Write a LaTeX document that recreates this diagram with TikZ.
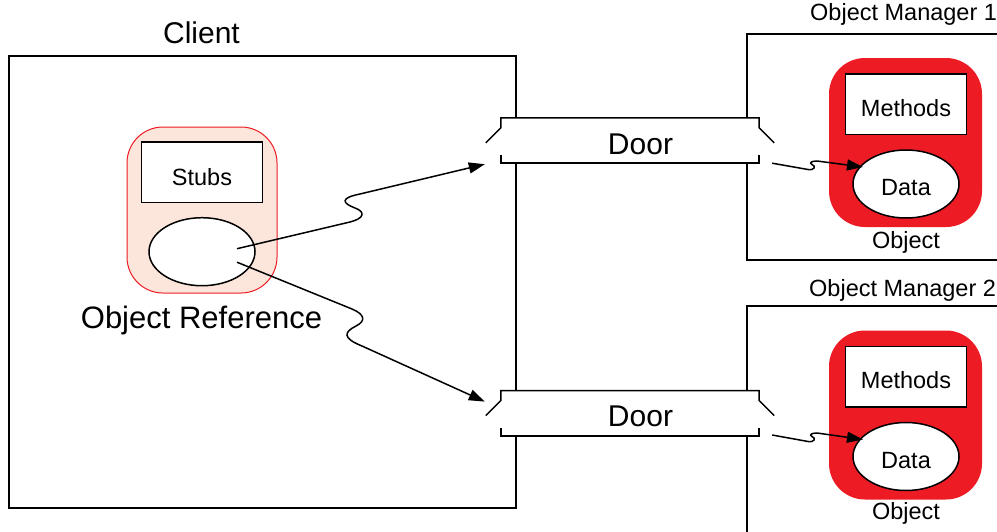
\documentclass[tikz,border=0pt]{standalone}
\usepackage{fontspec}
\setmainfont{Liberation Sans}
\usetikzlibrary{arrows.meta,calc,shapes.geometric}
\definecolor{objred}{RGB}{237,28,36}
\definecolor{refpink}{RGB}{252,229,218}
\begin{document}
\begin{tikzpicture}[x=1pt,y=-1pt,
  line/.style={draw=black,line width=1.5pt},
  bigtxt/.style={font=\fontsize{30}{36}\selectfont,inner sep=0pt,anchor=base},
  smalltxt/.style={font=\fontsize{23.5}{28}\selectfont,inner sep=0pt,anchor=base},
  textbox/.style={draw=black,line width=1.5pt,fill=white,minimum width=121pt,minimum height=60.5pt,inner sep=0pt},
  dataell/.style={ellipse,draw=black,line width=1.5pt,fill=white,minimum width=106pt,minimum height=68pt,inner sep=0pt},
  doorbox/.style={fill=white,minimum width=258pt,minimum height=45pt,inner sep=0pt},
  objblob/.style={fill=objred,rounded corners=36pt},
  conn/.style={line width=1.5pt,-{Triangle[length=16pt,width=11pt]}}
]
\clip (0,0) rectangle (997,531);
\fill[white] (0,0) rectangle (997,531);

% Client
\draw[line] (9,56) rectangle (516,508);
\node[bigtxt] (client) at (201.5,43.3) {Client};

% Object managers
\draw[line] (1010,34) -- (747,34) -- (747,260) -- (1010,260);
\node[smalltxt,anchor=base west] (om1) at (810,20.7) {Object Manager 1};
\draw[line] (1010,306) -- (747,306) -- (747,545);
\node[smalltxt,anchor=base west] (om2) at (809,296.7) {Object Manager 2};

% Object reference
\draw[draw=objred,line width=1pt,fill=refpink,rounded corners=36pt] (127,127) rectangle (277,293);
\node[textbox] (stubs) at (202,172.3) {};
\node[smalltxt] (stubstxt) at (202,185) {Stubs};
\node[dataell] (refell) at (202,251.7) {};
\node[bigtxt,font=\fontsize{31}{36}\selectfont] (reftxt) at (201.5,328.3) {Object Reference};

% Object 1
\fill[objblob] (829,58) rectangle (982,227);
\node[textbox] (meth1) at (906,104.3) {};
\node[smalltxt] (meth1txt) at (906,116) {Methods};
\node[dataell] (data1) at (906,184) {};
\node[smalltxt] (data1txt) at (906,195.5) {Data};
\node[smalltxt] (obj1txt) at (906,248) {Object};

% Object 2
\fill[objblob] (829,330.5) rectangle (982,499.5);
\node[textbox] (meth2) at (906,376.8) {};
\node[smalltxt] (meth2txt) at (906,388.4) {Methods};
\node[dataell] (data2) at (906,456.5) {};
\node[smalltxt] (data2txt) at (906,468) {Data};
\node[smalltxt] (obj2txt) at (906,519.5) {Object};

% Door 1
\node[doorbox] (door1) at (630,140.5) {};
\draw[line] ($(door1.north west)+(-15,25)$) -- ++(15,-15) -- (door1.north west) -- (door1.north east) -- ++(0,10) -- ++(15,15);
\draw[line] ($(door1.south west)+(0,-8)$) -- (door1.south west) -- (door1.south east) -- ++(0,-8);
\node[bigtxt] (door1txt) at (640.5,154.3) {Door};

% Door 2
\node[doorbox] (door2) at (630,413.3) {};
\draw[line] ($(door2.north west)+(-15,25)$) -- ++(15,-15) -- (door2.north west) -- (door2.north east) -- ++(0,10) -- ++(15,15);
\draw[line] ($(door2.south west)+(0,-8)$) -- (door2.south west) -- (door2.south east) -- ++(0,-8);
\node[bigtxt] (door2txt) at (640.5,426.3) {Door};

% Connectors
\coordinate (s1) at ($(refell.center)+(35,-3)$);
\coordinate (e1) at ($(door1.south west)+(-16,1)$);
\coordinate (s2) at ($(refell.center)+(35,10.5)$);
\coordinate (e2) at ($(door2.north west)+(-16,11)$);
\draw[conn] (s1) -- (350,222) .. controls (364,218.5) and (366,212) .. (355,208)
  .. controls (342,203) and (340,198) .. (360,194) -- (e1);
\draw[conn] (s2) -- (352,309) .. controls (365,314.5) and (366,321) .. (356,326)
  .. controls (344,332) and (342,338) .. (362,346) -- (e2);

\coordinate (r1) at ($(door1.south east)+(13,0)$);
\coordinate (t1) at ($(data1.center)+(-43,-17)$);
\draw[conn] (r1) -- (808,169.5) .. controls (815,170.5) and (816,166) .. (812,164.5)
  .. controls (809,163) and (811,161) .. (817,161) -- (t1);
\coordinate (r2) at ($(door2.south east)+(13,-1)$);
\coordinate (t2) at ($(data2.center)+(-43,-17)$);
\draw[conn] (r2) -- (808,441.5) .. controls (815,442.5) and (816,438) .. (812,436.5)
  .. controls (809,435) and (811,433) .. (817,433) -- (t2);
\end{tikzpicture}
\end{document}
